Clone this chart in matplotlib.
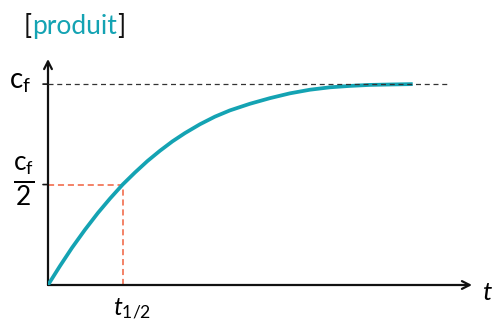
import matplotlib
matplotlib.use('Agg')
import matplotlib.pyplot as plt

plt.rcParams['font.family'] = ['Lato', 'DejaVu Sans']
plt.rcParams['mathtext.fontset'] = 'custom'
plt.rcParams['mathtext.rm'] = 'Lato'
plt.rcParams['mathtext.it'] = 'Lato:italic'

# values (t in units of t1/2, c in units of cf)
T_CURVE = [0.0, 0.161, 0.321, 0.495, 0.669, 0.830, 1.0, 1.165, 1.332, 1.499,
           1.667, 1.834, 2.035, 2.236, 2.436, 2.704, 2.972, 3.240, 3.508,
           3.775, 4.043, 4.311, 4.578, 4.886]
C_CURVE = [0.0, 0.095, 0.185, 0.275, 0.359, 0.430, 0.5, 0.560, 0.617, 0.668,
           0.715, 0.756, 0.800, 0.838, 0.869, 0.902, 0.930, 0.954, 0.972,
           0.984, 0.991, 0.996, 0.998, 1.0]
C_FINAL = 1.0
T_HALF = 1.0
T_DASH_END = 5.355

TEAL = '#14a3b3'
RED = '#f0603e'

# axis extents (arrow tips)
T_MAX = 5.68
C_MAX = 1.125

fig = plt.figure(figsize=(4.94, 3.24), dpi=100)
fig.patch.set_facecolor('white')
ax = fig.add_axes([48 / 494, 39 / 324, 424 / 494, 226 / 324])
ax.set_xlim(0, T_MAX)
ax.set_ylim(0, C_MAX)
ax.axis('off')

# axes with arrow heads
arrow = dict(arrowstyle='->,head_length=0.55,head_width=0.28', lw=1.6,
             color='#111111', shrinkA=0, shrinkB=0)
ax.annotate('', xy=(T_MAX, 0), xytext=(0, 0), arrowprops=arrow, annotation_clip=False)
ax.annotate('', xy=(0, C_MAX), xytext=(0, 0), arrowprops=arrow, annotation_clip=False)

# helper lines
ax.plot([0, T_DASH_END], [C_FINAL, C_FINAL], color='#333333', lw=0.9,
        dashes=(4, 3), zorder=4)
ax.plot([0, T_HALF], [C_FINAL / 2, C_FINAL / 2], color=RED, lw=1.1,
        dashes=(4, 2.5), zorder=2)
ax.plot([T_HALF, T_HALF], [0, C_FINAL / 2], color=RED, lw=1.1,
        dashes=(4, 2.5), zorder=2)

# small ticks on the y axis
for c in (C_FINAL, C_FINAL / 2):
    ax.annotate('', xy=(0, c), xytext=(-5, 0), textcoords='offset pixels',
                arrowprops=dict(arrowstyle='-', lw=1.2, color='#111111',
                                shrinkA=0, shrinkB=0))

# the curve
ax.plot(T_CURVE, C_CURVE, color=TEAL, lw=2.7, solid_capstyle='butt',
        solid_joinstyle='round', zorder=3)

# labels
ax.annotate(r'$\mathrm{c}_\mathrm{f}$', xy=(0, C_FINAL), xytext=(-17, 2),
            textcoords='offset pixels', ha='right', va='center', fontsize=20)
ax.annotate(r'$\frac{\mathrm{c}_\mathrm{f}}{2}$', xy=(0, C_FINAL / 2), xytext=(-13, 3),
            textcoords='offset pixels', ha='right', va='center', fontsize=27)
ax.annotate(r'$t_{1/2}$', xy=(T_HALF, 0), xytext=(-10, -31),
            textcoords='offset pixels', ha='left', va='baseline', fontsize=18)
ax.annotate(r'$t$', xy=(T_MAX, 0), xytext=(10, -8),
            textcoords='offset pixels', ha='left', va='center', fontsize=19)

# [produit] title, brackets in black, word in teal
t1 = fig.text(24 / 494, 1 - 34 / 324, '[', fontsize=19, color='#111111', va='baseline')
t2 = ax.annotate('produit', xy=(1, 0), xycoords=t1, va='bottom', fontsize=19, color=TEAL)
ax.annotate(']', xy=(1, 0), xycoords=t2, va='bottom', fontsize=19, color='#111111')

fig.savefig('out.png', dpi=100)
